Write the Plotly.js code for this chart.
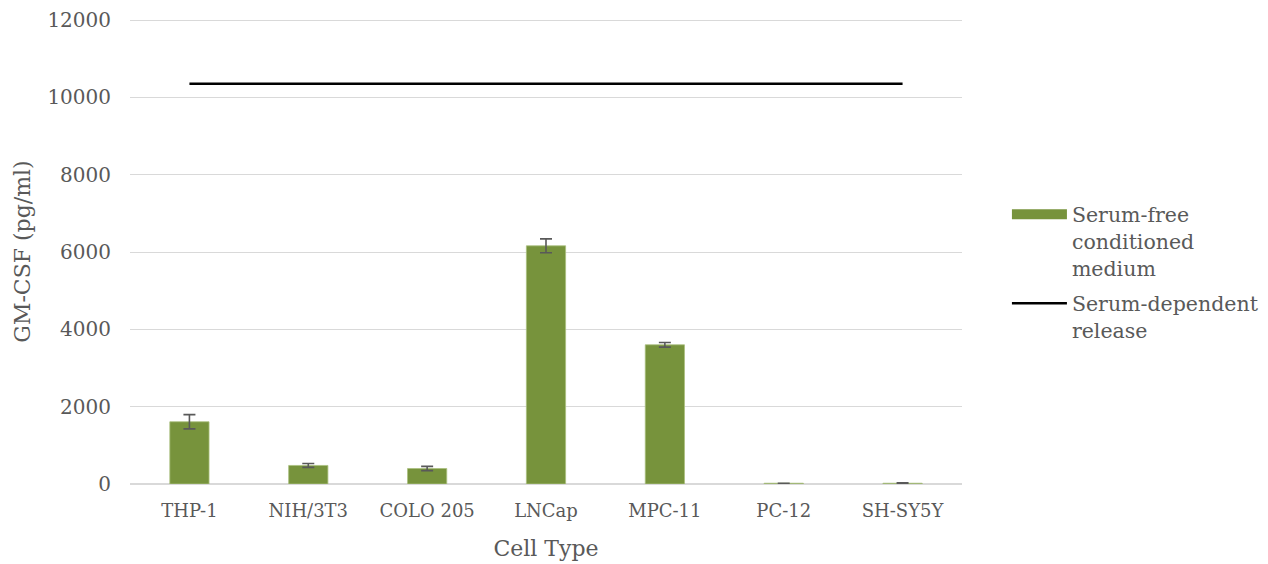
<!DOCTYPE html>
<html>
<head>
<meta charset="utf-8">
<script src="https://cdn.plot.ly/plotly-3.0.1.min.js"></script>
<style>html,body{margin:0;padding:0;background:#fff;}#chart{width:1268px;height:564px;}</style>
</head>
<body>
<div id="chart"></div>
<script>
const cellTypes = ["THP-1", "NIH/3T3", "COLO 205", "LNCap", "MPC-11", "PC-12", "SH-SY5Y"];
const serumFree = [1610, 480, 400, 6160, 3600, 20, 20];
const serumFreeErr = [185, 50, 55, 180, 60, 0, 10];
const serumDependent = [10350, 10350, 10350, 10350, 10350, 10350, 10350];

const font = "DejaVu Serif, serif";
const grey = "#595959";
const green = "#77933c";

const traces = [
  {
    type: "bar",
    name: "Serum-free<br>conditioned<br>medium",
    x: cellTypes,
    y: serumFree,
    marker: {color: green, line: {color: "#a9bf7d", width: 0.8}},
    error_y: {type: "data", array: serumFreeErr, visible: true, color: grey, thickness: 1.6, width: 6},
    showlegend: false
  },
  {
    type: "scatter",
    mode: "lines",
    name: "Serum-free<br>conditioned<br>medium",
    legendgroup: "a",
    x: [null],
    y: [null],
    line: {color: green, width: 13},
    showlegend: true
  },
  {
    type: "scatter",
    mode: "lines",
    name: "Serum-dependent<br>release",
    legendgroup: "b",
    x: cellTypes,
    y: serumDependent,
    line: {color: "#000000", width: 2.5}
  }
];

const layout = {
  width: 1268,
  height: 564,
  margin: {l: 130, r: 306, t: 19, b: 80, autoexpand: false},
  paper_bgcolor: "#ffffff",
  plot_bgcolor: "#ffffff",
  font: {family: font, color: grey, size: 18},
  bargap: 0.67,
  showlegend: true,
  xaxis: {
    type: "category",
    showgrid: false,
    showline: false,
    ticks: "",
    ticklabelstandoff: 14,
    tickfont: {family: font, size: 18, color: grey},
    title: {text: "Cell Type", font: {family: font, size: 22, color: grey}, standoff: 20}
  },
  yaxis: {
    range: [0, 12026],
    tickvals: [0, 2000, 4000, 6000, 8000, 10000, 12000],
    ticktext: ["0", "2000", "4000", "6000", "8000", "10000", "12000"],
    showgrid: true,
    gridcolor: "#d9d9d9",
    gridwidth: 1,
    zeroline: true,
    zerolinecolor: "#d9d9d9",
    zerolinewidth: 1.5,
    showline: false,
    ticks: "",
    ticklabelstandoff: 18,
    tickfont: {family: font, size: 20, color: grey},
    title: {text: "GM-CSF (pg/ml)", font: {family: font, size: 22, color: grey}, standoff: 10}
  },
  legend: {
    x: 1.054,
    xanchor: "left",
    y: 0.455,
    yanchor: "middle",
    valign: "top",
    itemwidth: 55,
    font: {family: font, size: 20.5, color: grey},
    tracegroupgap: 6,
    bgcolor: "rgba(0,0,0,0)"
  }
};

Plotly.newPlot("chart", traces, layout, {displayModeBar: false, staticPlot: true});
</script>
</body>
</html>
